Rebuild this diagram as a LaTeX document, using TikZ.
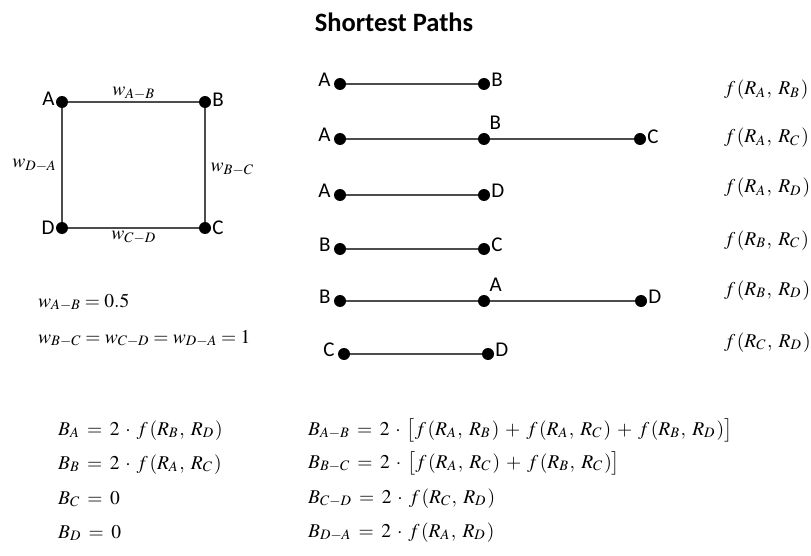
\documentclass[tikz,border=0pt]{standalone}
\usepackage{mathptmx}
\usepackage[no-math]{fontspec}
\setmainfont{Carlito}
\usetikzlibrary{positioning}

% f(R_x, R_y) with the spacing of the original
\newcommand{\fR}[2]{f\kern1.5pt(R_{#1}\kern1pt,\kern4pt R_{#2}\kern1.5pt)}

\tikzset{
  vert/.style={circle, fill=black, inner sep=0pt, minimum size=12pt, label distance=6pt},
  edge/.style={draw=black!70, line width=1.4pt},
  lbl/.style={font=\fontsize{21}{23}\selectfont, inner sep=1pt},
  wlbl/.style={font=\fontsize{19.5}{22}\selectfont, inner sep=5pt},
  eqn/.style={anchor=base west, inner sep=0pt, font=\fontsize{19.5}{23}\selectfont},
  wide/.style={eqn, execute at begin node={\thickmuskip=7mu\medmuskip=5.5mu}},
}

\begin{document}
\begin{tikzpicture}[x=1pt,y=-1pt]
\useasboundingbox (0,0) rectangle (811,556);
\node[font=\bfseries\fontsize{26.5}{30}\selectfont] (title) at (394,22) {Shortest Paths};
% Square graph
\node[vert, label={[lbl,yshift=3pt]left:A}] (a) at (62,102) {};
\node[vert, label={[lbl,yshift=2pt]right:B}] (b) at (205,102) {};
\node[vert, label={[lbl]right:C}] (c) at (205,228) {};
\node[vert, label={[lbl]left:D}] (d) at (62,228) {};
\draw[edge] (a) -- node[wlbl, above, inner sep=2pt] {$w_{A-B}$} (b);
\draw[edge] (b) -- node[wlbl, right, yshift=-4pt, inner sep=5pt] {$w_{B-C}$} (c);
\draw[edge] (c) -- node[wlbl, below, inner sep=2pt] {$w_{C-D}$} (d);
\draw[edge] (d) -- node[wlbl, left, inner sep=5pt] {$w_{D-A}$} (a);
% Weights
\node[eqn] (w1) at (38,307) {$w_{A-B}=0.5$};
\node[eqn] (w2) at (38,343) {$w_{B-C}=w_{C-D}=w_{D-A}=1$};
% Shortest paths, one per row
\foreach \i/\x/\y/\s/\t/\tp in {1/340/84/A/B/right, 2/340/139/A/B/above right,
    3/340/195/A/D/right, 4/340/249/B/C/right, 5/340/301/B/A/above right, 6/344/354/C/D/right} {
  \node[vert, label={[lbl,yshift=4pt,xshift=-2pt]left:\s}] (s\i) at (\x,\y) {};
  \node[vert, label={[lbl,yshift=4pt]\tp:\t}] (t\i) at (\x+144,\y) {};
  \draw[edge] (s\i) -- (t\i);
}
\node[vert, label={[lbl,yshift=2pt]right:C}] (u2) at (640,139) {};
\draw[edge] (t2) -- (u2);
\node[vert, label={[lbl,yshift=4pt]right:D}] (u5) at (641,301) {};
\draw[edge] (t5) -- (u5);
% Path functions
\foreach \i/\y/\p/\q in {1/95/A/B, 2/143/A/C, 3/193/A/D, 4/245/B/C, 5/295/B/D, 6/347/C/D} {
  \node[eqn] (f\i) at (724,\y) {$\fR{\p}{\q}$};
}
% Node betweenness
\node[wide] (ba) at (58,435) {$B_A=2\cdot\fR{B}{D}$};
\node[wide] (bb) at (58,469) {$B_B=2\cdot\fR{A}{C}$};
\node[wide] (bc) at (58,504) {$B_C=0$};
\node[wide] (bd) at (58,538) {$B_D=0$};
% Edge betweenness
\node[wide] (bab) at (308,435) {$B_{A-B}=2\cdot\bigl[\fR{A}{B}+\fR{A}{C}+\fR{B}{D}\bigr]$};
\node[wide] (bbc) at (308,468) {$B_{B-C}=2\cdot\bigl[\fR{A}{C}+\fR{B}{C}\bigr]$};
\node[wide] (bcd) at (308,503) {$B_{C-D}=2\cdot\fR{C}{D}$};
\node[wide] (bda) at (308,537) {$B_{D-A}=2\cdot\fR{A}{D}$};
\end{tikzpicture}
\end{document}
